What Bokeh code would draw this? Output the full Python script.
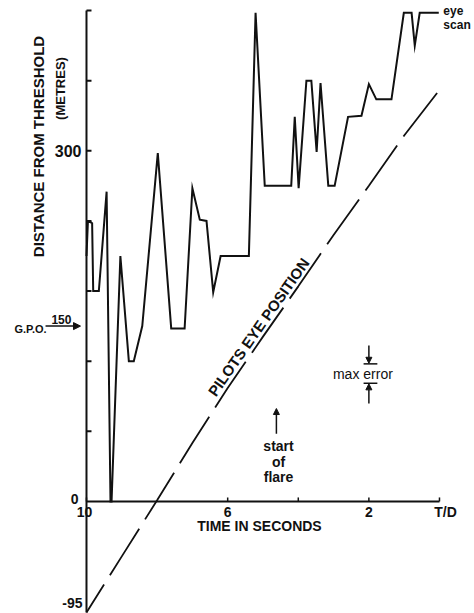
import math
from bokeh.plotting import figure
from bokeh.models import Range1d, Label, Arrow, NormalHead
from bokeh.embed import file_html
from bokeh.resources import INLINE

# ---- data (time to touchdown in seconds, distance from threshold in metres) ----
scan_time = [10.0, 9.96, 9.89, 9.84, 9.81, 9.65, 9.43, 9.32, 9.29, 9.04, 8.80, 8.66,
             8.42, 7.98, 7.60, 7.22, 7.00, 6.79, 6.60, 6.41, 6.20, 5.40, 5.21, 4.95,
             4.20, 4.10, 3.99, 3.77, 3.63, 3.48, 3.37, 3.15, 2.97, 2.59, 2.21, 2.00,
             1.79, 1.36, 1.01, 0.79, 0.70, 0.56, 0.02]
scan_distance = [210, 239, 239, 238, 180, 180, 265, 0, 0, 210, 120, 120,
                 150, 298, 148, 148, 268, 241, 240, 179, 210, 210, 418, 270,
                 270, 329, 268, 360, 360, 299, 358, 270, 270, 329, 330, 357,
                 344, 344, 418, 418, 390, 418, 418]

eye_time = [10, 9, 8, 7, 6, 5, 4, 3, 2, 1, 0]
eye_distance = [-95, -47, 1, 50, 97, 141, 184, 228, 270, 313, 352]

x_tick_values = [10, 6, 4, 2, 0]
x_tick_labels = {10: "10", 6: "6", 2: "2", 0: "T/D"}
y_tick_values = [60, 120, 180, 240, 300, 360, 420]
y_tick_labels = {0: "0", 300: "300"}
y_min, y_max = -95, 420
x_first, x_last = 10, 0

gpo_distance = 150
flare_time = 4.62
flare_arrow = [58, 79.5]
max_error_time = 2.0
max_error_band = [101.1, 117.7]

FONT = "Liberation Sans"
BLACK = "#111111"

p = figure(width=474, height=613,
           x_range=Range1d(12.436, -0.992), y_range=Range1d(-95.86, 428.55),
           output_backend="svg", toolbar_location=None,
           x_axis_type=None, y_axis_type=None)
p.min_border = 0
p.min_border_left = 0
p.min_border_right = 0
p.min_border_top = 0
p.min_border_bottom = 0
p.outline_line_color = None
p.background_fill_color = "white"
p.border_fill_color = "white"


def label(x, y, text, size="14px", style="bold", align="center", baseline="middle",
          xo=0, yo=0, angle=0.0, units="data", lh=1.2):
    p.add_layout(Label(x=x, y=y, text=text, x_offset=xo, y_offset=yo, angle=angle,
                       x_units=units, y_units=units, text_align=align,
                       text_baseline=baseline, text_font=FONT, text_font_style=style,
                       text_font_size=size, text_color=BLACK, text_line_height=lh))


# ---- y axis (vertical line at t = 10) ----
p.line(x=[x_first, x_first], y=[y_min, y_max], line_width=2, color=BLACK)
p.ray(x=[x_first] * len(y_tick_values), y=y_tick_values, length=5, length_units="screen",
      angle=0, line_width=2, color=BLACK)
label(x_first, 300, y_tick_labels[300], size="16px", align="right", xo=-5)
label(x_first, 0, y_tick_labels[0], size="14px", align="right", xo=-8, yo=2)
label(x_first, y_min, str(y_min), size="14px", align="right", xo=-4, yo=9)

# ---- x axis (horizontal line at distance 0) ----
p.line(x=[x_first, x_last], y=[0, 0], line_width=2, color=BLACK)
p.ray(x=x_tick_values, y=[0] * len(x_tick_values), length=4, length_units="screen",
      angle=math.pi / 2, line_width=1.5, color=BLACK)
for t, lab in x_tick_labels.items():
    label(t, 0, lab, xo=(-2 if t == 10 else 6 if t == 0 else 0), yo=-11)
label(5.1, 0, "TIME IN SECONDS", yo=-25)

# ---- axis titles ----
label(38, 613 - 146, "DISTANCE FROM THRESHOLD", size="15px", angle=math.pi / 2, units="screen")
label(60, 613 - 88, "(METRES)", size="13px", angle=math.pi / 2, units="screen")

# ---- pilot's eye position (dashed) ----
p.line(eye_time, eye_distance, line_width=1.8, color=BLACK, line_dash="55 11",
       line_dash_offset=22)
label(4.93, 145, "PILOTS EYE POSITION", size="15px", baseline="bottom",
      angle=math.radians(55))

# ---- eye scan ----
p.line(scan_time, scan_distance, line_width=2, color=BLACK, line_join="miter")
label(-0.11, 413.6, "eye\nscan", size="12px", align="left", lh=1.0)

# ---- G.P.O. marker ----
p.add_layout(Arrow(end=NormalHead(size=7, fill_color=BLACK, line_color=BLACK),
                   x_start=11.16, y_start=gpo_distance, x_end=10.17, y_end=gpo_distance,
                   line_width=1.5, line_color=BLACK))
label(12.04, gpo_distance, "G.P.O.", size="11px", align="left", yo=-3)
label(10.71, gpo_distance, str(gpo_distance), size="12px", yo=7)

# ---- start of flare ----
p.add_layout(Arrow(end=NormalHead(size=6, fill_color=BLACK, line_color=BLACK),
                   x_start=flare_time, y_start=flare_arrow[0], x_end=flare_time,
                   y_end=flare_arrow[1], line_width=1.5, line_color=BLACK))
label(4.56, 34.1, "start\nof\nflare", size="14px", lh=0.95)

# ---- max error ----
p.segment(x0=[2.15, 2.15], x1=[1.76, 1.76], y0=max_error_band, y1=max_error_band,
          line_width=1.5, color=BLACK)
p.add_layout(Arrow(end=NormalHead(size=6, fill_color=BLACK, line_color=BLACK),
                   x_start=max_error_time, y_start=133.4, x_end=max_error_time,
                   y_end=max_error_band[1] + 0.5, line_width=1.5, line_color=BLACK))
p.add_layout(Arrow(end=NormalHead(size=6, fill_color=BLACK, line_color=BLACK),
                   x_start=max_error_time, y_start=83.8, x_end=max_error_time,
                   y_end=max_error_band[0] - 0.5, line_width=1.5, line_color=BLACK))
label(2.17, sum(max_error_band) / 2, "max error", size="14px", style="normal")

open("out.html", "w").write(file_html(p, INLINE))
